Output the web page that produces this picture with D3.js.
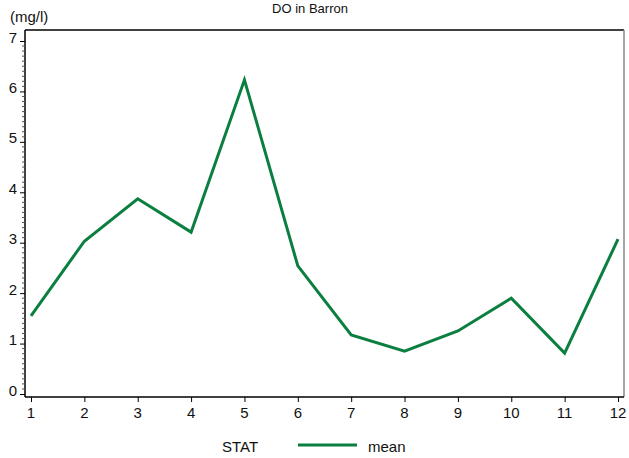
<!DOCTYPE html>
<html><head><meta charset="utf-8">
<script src="https://cdn.jsdelivr.net/npm/d3@7"></script>
<style>body{margin:0;background:#fff;} text{font-family:"Liberation Sans",Arial,sans-serif;fill:#111;}</style>
</head><body>
<svg id="c" width="629" height="458"></svg>
<script>
const months = [1,2,3,4,5,6,7,8,9,10,11,12];
const meanValues = [1.55,3.03,3.87,3.21,6.23,2.54,1.17,0.85,1.25,1.90,0.81,3.07];
const yTicks = [0,1,2,3,4,5,6,7];
const title = "DO in Barron";
const yUnit = "(mg/l)";
const legendTitle = "STAT";
const seriesName = "mean";
const color = "#0b7f3f";

(function(){
const svg = d3.select("#c");
const x = d3.scaleLinear().domain([1,12]).range([31,618]);
const y = d3.scaleLinear().domain([0,7]).range([394,41]);
const pL = 25, pR = 624, pT = 30, pB = 397;

// frame
svg.append("line").attr("x1",pL).attr("x2",pR).attr("y1",pT).attr("y2",pT).attr("stroke","#000").attr("stroke-width",1.5);
svg.append("line").attr("x1",pR).attr("x2",pR).attr("y1",pT).attr("y2",pB).attr("stroke","#888").attr("stroke-width",1.5);

// y axis
const yAxis = d3.axisLeft(y).tickValues(yTicks).tickSize(5).tickFormat("");
const gy = svg.append("g").attr("transform",`translate(${pL},0)`).call(yAxis);
gy.select(".domain").attr("d",`M0,${pT}V${pB}`).attr("stroke","#000").attr("stroke-width",1.5);
gy.selectAll(".tick line").attr("stroke","#000");
const minor = d3.range(0,7.001,0.1).filter(v=>Math.abs(v-Math.round(v))>1e-6);
svg.append("g").selectAll("line").data(minor).join("line")
  .attr("x1",pL-3).attr("x2",pL).attr("y1",d=>y(d)).attr("y2",d=>y(d)).attr("stroke","#555").attr("stroke-width",1);
svg.append("g").selectAll("text").data(yTicks).join("text")
  .attr("x",13).attr("y",d=>y(d)-4).attr("text-anchor","middle").attr("dominant-baseline","central")
  .attr("font-size",15).text(d=>d);

// x axis
const xAxis = d3.axisBottom(x).tickValues(months).tickSize(5).tickFormat("");
const gx = svg.append("g").attr("transform",`translate(0,${pB})`).call(xAxis);
gx.select(".domain").attr("d",`M${pL},0H${pR}`).attr("stroke","#000").attr("stroke-width",1.5);
gx.selectAll(".tick line").attr("stroke","#000");
svg.append("g").selectAll("text").data(months).join("text")
  .attr("x",d=>x(d)).attr("y",412).attr("text-anchor","middle").attr("dominant-baseline","central")
  .attr("font-size",15).text(d=>d);

// line
const line = d3.line().x((d,i)=>x(months[i])).y(d=>y(d));
svg.append("path").datum(meanValues).attr("d",line).attr("fill","none").attr("stroke",color).attr("stroke-width",3).attr("stroke-linejoin","miter");

// title and unit
svg.append("text").attr("x",310).attr("y",8).attr("text-anchor","middle").attr("dominant-baseline","central").attr("font-size",13).text(title);
svg.append("text").attr("x",10).attr("y",16).attr("dominant-baseline","central").attr("font-size",15).text(yUnit);

// legend
svg.append("text").attr("x",240).attr("y",446).attr("text-anchor","middle").attr("dominant-baseline","central").attr("font-size",15).text(legendTitle);
svg.append("line").attr("x1",298).attr("x2",357).attr("y1",445).attr("y2",445).attr("stroke",color).attr("stroke-width",3);
svg.append("text").attr("x",368).attr("y",446).attr("dominant-baseline","central").attr("font-size",15).text(seriesName);
})();
</script>
</body></html>
